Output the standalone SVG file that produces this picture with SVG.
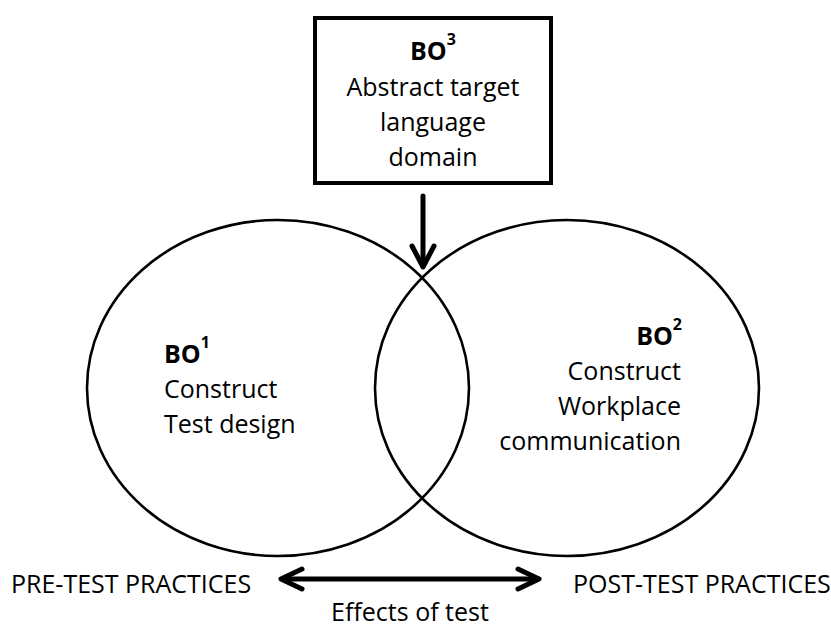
<svg xmlns="http://www.w3.org/2000/svg" width="831" height="629" viewBox="0 0 831 629">
<style>
.t{font-family:"Open Sans","Liberation Sans",sans-serif;font-size:25px;fill:#000}
.b{font-weight:bold}
.sup{font-size:16px;font-weight:bold}
.ring{fill:none;stroke:#000;stroke-width:2.6}
.arr{fill:none;stroke:#000;stroke-width:5;stroke-linecap:round;stroke-linejoin:round}
</style>
<rect width="831" height="629" fill="#fff"/>
<g id="bo1">
<ellipse class="ring" cx="278" cy="388" rx="191" ry="168"/>
<text class="t" x="164" y="363"><tspan class="b">BO</tspan><tspan class="sup" dy="-15">1</tspan></text>
<text class="t" x="164" y="398">Construct</text>
<text class="t" x="164" y="433">Test design</text>
</g>
<g id="bo2">
<ellipse class="ring" cx="567" cy="388" rx="192" ry="168"/>
<text class="t" x="682" y="345" text-anchor="end"><tspan class="b">BO</tspan><tspan class="sup" dy="-15">2</tspan></text>
<text class="t" x="681" y="380" text-anchor="end">Construct</text>
<text class="t" x="681" y="415" text-anchor="end">Workplace</text>
<text class="t" x="681" y="450" text-anchor="end">communication</text>
</g>
<g id="bo3">
<rect x="315" y="18" width="236" height="165" fill="none" stroke="#000" stroke-width="4"/>
<text class="t" x="433" y="60" text-anchor="middle"><tspan class="b">BO</tspan><tspan class="sup" dy="-15">3</tspan></text>
<text class="t" x="433" y="96" text-anchor="middle">Abstract target</text>
<text class="t" x="433" y="131" text-anchor="middle">language</text>
<text class="t" x="433" y="166" text-anchor="middle">domain</text>
</g>
<g id="pre">
<text class="t" x="11" y="593">PRE-TEST PRACTICES</text>
</g>
<g id="post">
<text class="t" x="573" y="593">POST-TEST PRACTICES</text>
</g>
<g id="effects">
<text class="t" x="410" y="621" text-anchor="middle">Effects of test</text>
</g>
<g id="connectors">
<line class="arr" x1="423" y1="196" x2="423" y2="265"/>
<polyline class="arr" points="412,246 423,267 434,246"/>
<line class="arr" x1="283" y1="579" x2="536" y2="579"/>
<polyline class="arr" points="302,569 281,579 302,589"/>
<polyline class="arr" points="518,569 539,579 518,589"/>
</g>
</svg>
